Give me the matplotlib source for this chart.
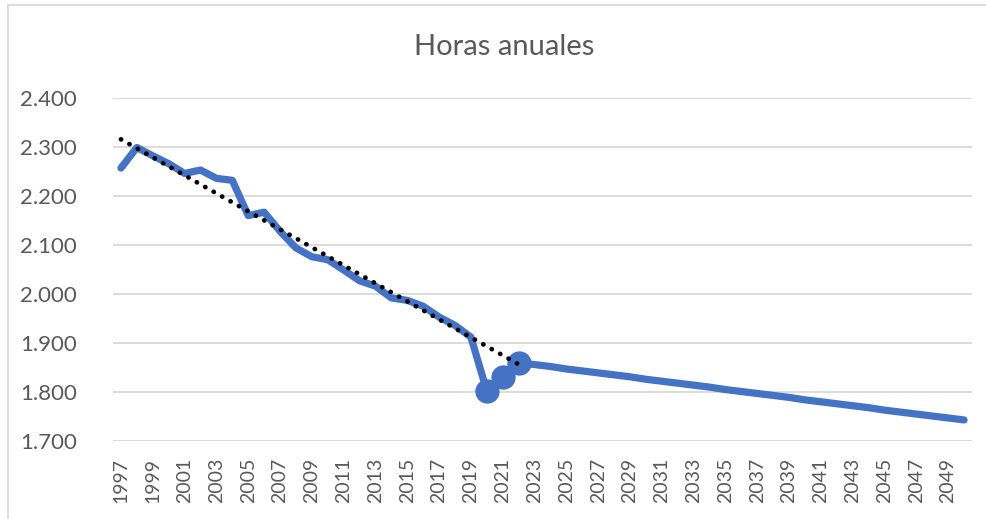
import matplotlib
matplotlib.use("Agg")
import matplotlib.pyplot as plt
import numpy as np
from matplotlib.ticker import FuncFormatter, FixedLocator
from matplotlib.patches import Rectangle

plt.rcParams['font.family'] = ['Lato', 'DejaVu Sans']

years = list(range(1997, 2051))
hist_years = list(range(1997, 2023))
hist_hours = [2257, 2299, 2282, 2266, 2246, 2253, 2236, 2232, 2160, 2167,
              2128, 2094, 2076, 2070, 2049, 2027, 2016, 1992, 1987, 1975,
              1953, 1936, 1912, 1802, 1830, 1859]
proj_hours = [1856, 1852, 1847, 1843, 1839, 1835, 1831, 1826, 1822, 1818,
              1814, 1810, 1805, 1801, 1797, 1793, 1789, 1784, 1780, 1776,
              1772, 1768, 1763, 1759, 1755, 1751, 1747, 1743]
hours = hist_hours + proj_hours
marked_years = [2020, 2021, 2022]
trend_fit_last_year = 2019   # trend fitted on 1997-2019, forecast to 2022
title = "Horas anuales"
yticks = [1700, 1800, 1900, 2000, 2100, 2200, 2300, 2400]

blue = "#4472C4"
grey_text = "#595959"
grid_col = "#D9D9D9"

fig = plt.figure(figsize=(9.87, 5.19), dpi=100)
W, H = 987, 519
ax = fig.add_axes([113 / W, 1 - 441 / H, (972 - 113) / W, (441 - 98) / H])

x = np.arange(len(years))
ax.set_xlim(-0.5, len(years) - 0.5)
ax.set_ylim(1700, 2400)

ax.yaxis.set_major_locator(FixedLocator(yticks))
ax.yaxis.set_major_formatter(FuncFormatter(lambda v, p: f"{int(v):,}".replace(",", ".")))
ax.grid(axis='y', color=grid_col, linewidth=1.3)
ax.set_axisbelow(True)
for s in ax.spines.values():
    s.set_visible(False)

tick_pos = [i for i, yv in enumerate(years) if (yv - 1997) % 2 == 0]
ax.set_xticks(tick_pos)
ax.set_xticklabels([str(years[i]) for i in tick_pos], rotation=90)
ax.tick_params(axis='x', length=0, pad=12, labelsize=14, colors=grey_text)
ax.tick_params(axis='y', length=0, pad=26, labelsize=16, colors=grey_text)

# main series
mark_idx = [years.index(yv) for yv in marked_years]
ax.plot(x, hours, color=blue, linewidth=5.2, solid_joinstyle='round',
        solid_capstyle='round', zorder=3)
ax.plot(mark_idx, [hours[i] for i in mark_idx], linestyle='none', marker='o',
        markersize=16.5, color=blue, zorder=4)

# linear trendline (fitted on pre-2020 data, forecast forward)
nfit = hist_years.index(trend_fit_last_year) + 1
fx = np.arange(nfit)
coef = np.polyfit(fx, hist_hours[:nfit], 1)
tx = np.arange(len(hist_years))
ax.plot(tx, np.polyval(coef, tx), color='black', linewidth=3.4,
        linestyle=(0, (0.05, 2.0)), dash_capstyle='round', zorder=5)

fig.text(504 / W, 1 - 47 / H, title, ha='center', va='center',
         fontsize=21, color=grey_text)

fig.patches.append(Rectangle((8 / W, -0.1), 1.2, 1 - 5 / H + 0.1, transform=fig.transFigure,
                             fill=False, edgecolor=grid_col, linewidth=1.3))

fig.savefig("out.png", dpi=100)
